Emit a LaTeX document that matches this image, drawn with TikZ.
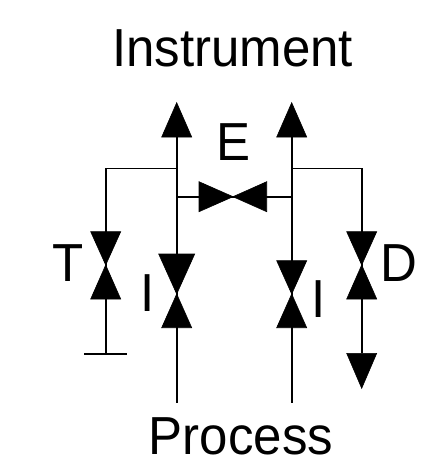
\documentclass[tikz,border=0pt]{standalone}
\usepackage{fontspec}
\setmainfont{Liberation Sans}
\usetikzlibrary{positioning}

\tikzset{
  pipe/.style = {line width=1.6pt},
  tip/.style = {fill=black, draw=black, line width=0.6pt, line join=miter},
  lbl/.style = {anchor=base, inner sep=0pt, yscale=1.05, font=\fontsize{51}{51}\selectfont}
}
% valve: two triangles meeting at #1, half heights #2 #3, half widths #4 #5
\newcommand{\vvalve}[5]{
  \draw[tip] (#1) ++(0,-#2) ++(-#4,0) -- ++(2*#4,0) -- (#1) -- cycle;
  \draw[tip] (#1) ++(0,#3) ++(-#5,0) -- ++(2*#5,0) -- (#1) -- cycle;
}

\begin{document}
\begin{tikzpicture}[x=1pt, y=-1pt]
  \useasboundingbox (0,0) rectangle (446,471);

  \node[lbl] (inst) at (232.5,66.7) {Instrument};
  \node[lbl] (proc) at (241,454.5) {Process};
  \node[lbl] (labE) at (234,160) {E};
  \node[lbl] (labT) at (68,281) {T};
  \node[lbl] (labIl) at (147.5,311) {I};
  \node[lbl] (labIr) at (318.5,317) {I};
  \node[lbl] (labD) at (399,281) {D};

  \coordinate (topl) at (176.7,137);
  \coordinate (topr) at (291.7,137);
  \coordinate (tvalve) at (105.7,265);
  \coordinate (dvalve) at (361.7,265);
  \coordinate (ivalvel) at (176.7,294);
  \coordinate (ivalver) at (291.7,294);
  \coordinate (evalve) at (233,196.7);
  \coordinate (botl) at (176.7,403);
  \coordinate (botr) at (291.7,403);
  \coordinate (tend) at (105.7,354);
  \coordinate (dend) at (361.7,353.3);
  \coordinate (capl) at (84.3,354);
  \coordinate (capr) at (126.7,354);
  \coordinate (brl) at (176.7,168.3);
  \coordinate (brr) at (291.7,168.3);
  \coordinate (crl) at (176.7,196.7);
  \coordinate (crr) at (291.7,196.7);

  \draw[pipe] (topl) -- (botl);
  \draw[pipe] (topr) -- (botr);
  \draw[pipe] (brl) -| (tvalve) -- (tend);
  \draw[pipe] (capl) -- (capr);
  \draw[pipe] (brr) -| (dvalve) -- (dend);
  \draw[pipe] (crl) -- (crr);

  % arrows
  \draw[tip] (topl) ++(-15,0) -- ++(30,0) -- (176.7,102.7) -- cycle;
  \draw[tip] (topr) ++(-15,0) -- ++(30,0) -- (291.7,102.7) -- cycle;
  \draw[tip] (dend) ++(-15,0) -- ++(30,0) -- (361.7,388.3) -- cycle;

  % valves
  \vvalve{tvalve}{33.3}{34}{15}{15}
  \vvalve{dvalve}{33.3}{34}{15}{15}
  \vvalve{ivalvel}{40}{33.7}{18}{15}
  \vvalve{ivalver}{33.3}{33.7}{15}{15}
  \draw[tip] (199,181.7) -- (199,211.7) -- (evalve) -- cycle;
  \draw[tip] (266.7,181.7) -- (266.7,211.7) -- (evalve) -- cycle;
\end{tikzpicture}
\end{document}
